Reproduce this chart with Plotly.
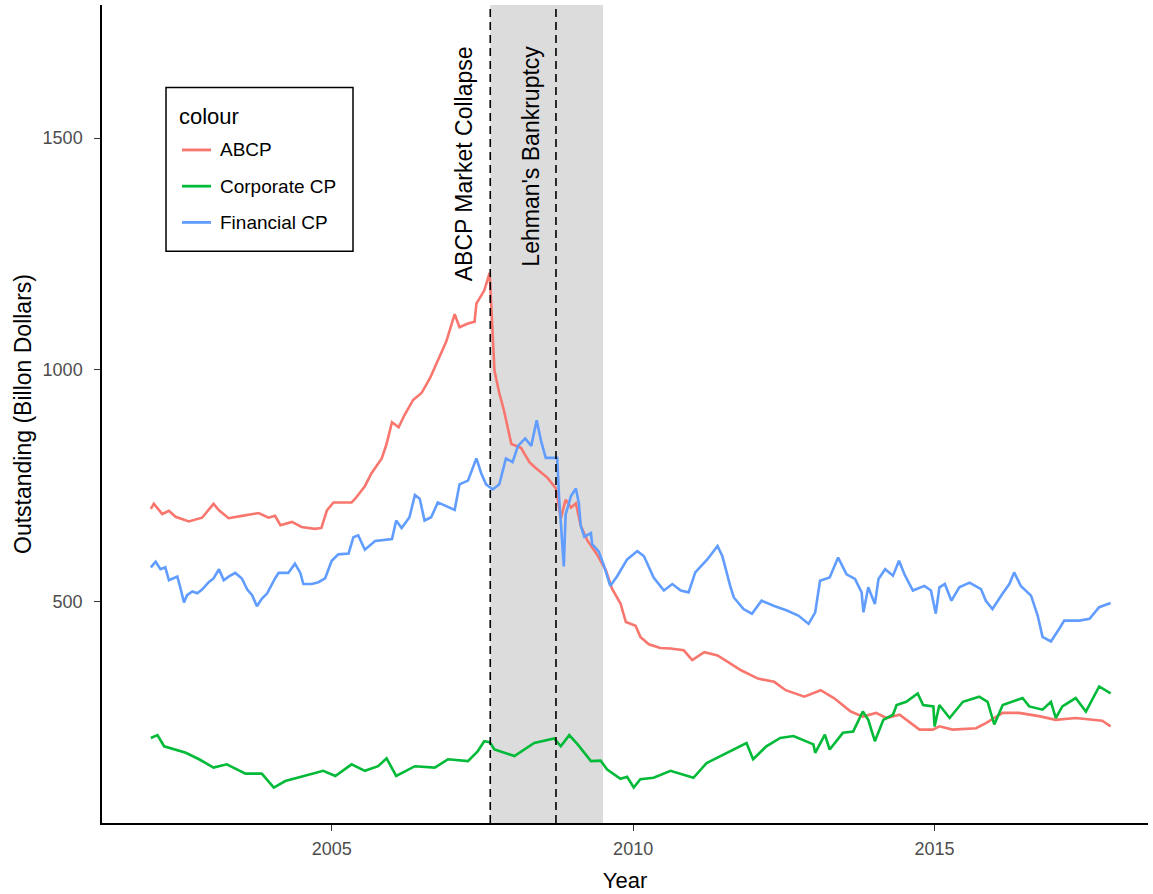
import plotly.graph_objects as go

# Commercial paper outstanding, billion dollars (decimal year, value)
abcp_year = [2002.00, 2002.05, 2002.19, 2002.30, 2002.41, 2002.63, 2002.85, 2003.04, 2003.13, 2003.29,
             2003.51, 2003.79, 2003.95, 2004.06, 2004.15, 2004.34, 2004.50, 2004.72, 2004.83, 2004.92,
             2005.03, 2005.17, 2005.33, 2005.39, 2005.55, 2005.66, 2005.83, 2005.91, 2006.00, 2006.11,
             2006.21, 2006.35, 2006.49, 2006.63, 2006.76, 2006.90, 2007.04, 2007.12, 2007.26, 2007.37,
             2007.40, 2007.53, 2007.62, 2007.66, 2007.70, 2007.78, 2007.86, 2007.98, 2008.14, 2008.28,
             2008.36, 2008.58, 2008.72, 2008.80, 2008.88, 2008.97, 2009.05, 2009.13, 2009.24, 2009.41,
             2009.55, 2009.65, 2009.79, 2009.88, 2010.04, 2010.12, 2010.26, 2010.45, 2010.62, 2010.84,
             2010.98, 2011.18, 2011.40, 2011.57, 2011.79, 2012.07, 2012.34, 2012.53, 2012.84, 2013.11,
             2013.33, 2013.61, 2013.81, 2014.03, 2014.20, 2014.42, 2014.75, 2014.97, 2015.08, 2015.30,
             2015.69, 2015.85, 2016.13, 2016.40, 2016.73, 2017.01, 2017.34, 2017.78, 2017.92]
abcp_value = [700, 711, 689, 696, 683, 673, 681, 711, 697, 680,
              685, 691, 681, 685, 665, 672, 661, 657, 659, 697,
              714, 714, 714, 722, 749, 777, 809, 840, 887, 876,
              903, 935, 950, 982, 1021, 1061, 1120, 1092, 1100, 1104,
              1143, 1171, 1209, 1092, 998, 950, 911, 840, 832, 801,
              791, 767, 744, 679, 720, 703, 712, 664, 632, 600,
              567, 528, 496, 456, 448, 424, 408, 400, 399, 395,
              374, 391, 384, 370, 352, 334, 327, 309, 295, 309,
              292, 263, 252, 260, 249, 256, 224, 224, 231, 224,
              227, 238, 260, 260, 253, 245, 249, 243, 231]

corp_year = [2002.00, 2002.11, 2002.22, 2002.41, 2002.58, 2002.80, 2003.04, 2003.26, 2003.57, 2003.84,
             2004.04, 2004.23, 2004.56, 2004.86, 2005.06, 2005.33, 2005.55, 2005.77, 2005.91, 2006.07,
             2006.38, 2006.71, 2006.93, 2007.26, 2007.42, 2007.53, 2007.62, 2007.70, 2008.03, 2008.36,
             2008.69, 2008.80, 2008.94, 2009.08, 2009.30, 2009.46, 2009.57, 2009.79, 2009.90, 2010.01,
             2010.12, 2010.34, 2010.62, 2011.00, 2011.22, 2011.55, 2011.88, 2011.99, 2012.21, 2012.44,
             2012.66, 2012.99, 2013.02, 2013.18, 2013.26, 2013.48, 2013.65, 2013.81, 2013.90, 2014.01,
             2014.15, 2014.31, 2014.37, 2014.53, 2014.72, 2014.81, 2014.98, 2015.00, 2015.08, 2015.25,
             2015.47, 2015.74, 2015.88, 2015.99, 2016.13, 2016.46, 2016.57, 2016.79, 2016.93, 2017.01,
             2017.12, 2017.34, 2017.51, 2017.73, 2017.92]
corp_value = [206, 212, 188, 181, 174, 160, 142, 149, 129, 129,
              99, 113, 124, 135, 124, 149, 135, 145, 162, 124,
              145, 142, 160, 156, 177, 199, 197, 181, 167, 195,
              205, 188, 212, 192, 156, 157, 138, 118, 122, 99,
              117, 120, 135, 120, 152, 174, 195, 160, 188, 206,
              210, 192, 174, 213, 181, 217, 220, 263, 245, 199,
              245, 256, 277, 284, 302, 277, 274, 231, 277, 249,
              284, 295, 284, 235, 277, 292, 274, 267, 284, 249,
              274, 292, 263, 317, 302]

fin_year = [2002.00, 2002.08, 2002.16, 2002.24, 2002.30, 2002.38, 2002.44, 2002.49, 2002.55, 2002.60,
            2002.69, 2002.77, 2002.85, 2002.96, 2003.04, 2003.13, 2003.21, 2003.29, 2003.40, 2003.51,
            2003.60, 2003.68, 2003.76, 2003.84, 2003.93, 2004.06, 2004.12, 2004.28, 2004.39, 2004.48,
            2004.53, 2004.67, 2004.78, 2004.89, 2005.00, 2005.11, 2005.28, 2005.36, 2005.44, 2005.55,
            2005.72, 2006.00, 2006.07, 2006.16, 2006.29, 2006.38, 2006.46, 2006.54, 2006.65, 2006.76,
            2007.04, 2007.12, 2007.26, 2007.40, 2007.48, 2007.56, 2007.67, 2007.78, 2007.89, 2008.00,
            2008.09, 2008.21, 2008.31, 2008.40, 2008.47, 2008.55, 2008.74, 2008.77, 2008.80, 2008.85,
            2008.88, 2008.97, 2009.05, 2009.10, 2009.13, 2009.19, 2009.30, 2009.32, 2009.43, 2009.52,
            2009.62, 2009.74, 2009.90, 2010.07, 2010.18, 2010.34, 2010.51, 2010.65, 2010.79, 2010.92,
            2011.03, 2011.23, 2011.40, 2011.48, 2011.61, 2011.67, 2011.83, 2011.97, 2012.13, 2012.33,
            2012.55, 2012.74, 2012.91, 2013.02, 2013.10, 2013.26, 2013.40, 2013.54, 2013.68, 2013.79,
            2013.82, 2013.90, 2014.01, 2014.07, 2014.18, 2014.31, 2014.41, 2014.50, 2014.64, 2014.83,
            2014.94, 2015.02, 2015.08, 2015.17, 2015.28, 2015.41, 2015.58, 2015.77, 2015.85, 2015.96,
            2016.12, 2016.24, 2016.32, 2016.43, 2016.60, 2016.71, 2016.79, 2016.93, 2017.07, 2017.15,
            2017.40, 2017.57, 2017.73, 2017.92]
fin_value = [574, 586, 570, 574, 546, 550, 554, 530, 498, 514,
             522, 518, 526, 542, 550, 570, 546, 554, 562, 550,
             526, 514, 490, 506, 518, 550, 562, 562, 582, 562,
             538, 538, 542, 550, 588, 602, 604, 639, 643, 612,
             631, 635, 675, 659, 682, 730, 722, 675, 682, 714,
             698, 753, 761, 809, 777, 753, 742, 753, 809, 801,
             836, 852, 836, 891, 848, 810, 810, 728, 664, 576,
             688, 728, 744, 712, 664, 640, 648, 624, 608, 576,
             534, 556, 591, 609, 598, 552, 524, 538, 524, 520,
             563, 591, 620, 598, 534, 509, 484, 474, 502, 491,
             481, 470, 452, 477, 545, 552, 595, 559, 549, 520,
             477, 531, 495, 549, 570, 556, 588, 559, 524, 534,
             524, 474, 531, 538, 502, 531, 541, 527, 502, 484,
             516, 538, 563, 534, 513, 470, 424, 414, 442, 459,
             459, 463, 488, 497]

series_names = ["ABCP", "Corporate CP", "Financial CP"]
series_colors = ["#F8766D", "#00BA38", "#619CFF"]

# Event markers and the shaded crisis window
abcp_collapse = 2007.63
lehman_bankruptcy = 2008.72
crisis_end = 2009.50

FONT = "Liberation Sans, Arial, sans-serif"

fig = go.Figure()
for name, color, xs, ys in zip(series_names, series_colors,
                               [abcp_year, corp_year, fin_year],
                               [abcp_value, corp_value, fin_value]):
    fig.add_trace(go.Scatter(x=xs, y=ys, mode="lines", name=name, showlegend=False,
                             line=dict(color=color, width=2.6)))

fig.add_shape(type="rect", xref="x", yref="paper", x0=abcp_collapse, x1=crisis_end,
              y0=0, y1=1, fillcolor="#DCDCDC", line_width=0, layer="below")
for xv in (abcp_collapse, lehman_bankruptcy):
    fig.add_shape(type="line", xref="x", yref="paper", x0=xv, x1=xv, y0=0, y1=1,
                  line=dict(color="black", width=1.6, dash="8px,5px"))

fig.add_annotation(x=abcp_collapse, y=1444, xshift=-26, text="ABCP Market Collapse",
                   textangle=-90, showarrow=False, xanchor="center", yanchor="middle",
                   font=dict(family=FONT, size=23, color="black"))
fig.add_annotation(x=lehman_bankruptcy, y=1462, xshift=-25, text="Lehman's Bankruptcy",
                   textangle=-90, showarrow=False, xanchor="center", yanchor="middle",
                   font=dict(family=FONT, size=23, color="black"))

# Legend box drawn in paper coordinates (plot area: 1046 x 824 px)
PW, PH = 1046.0, 824.0
def px_x(dx):
    return dx / PW
def px_y(dy):
    return 1 - dy / PH

box_left, box_top, box_w, box_h = 64, 83, 187, 165
fig.add_shape(type="rect", xref="paper", yref="paper",
              x0=px_x(box_left), x1=px_x(box_left + box_w),
              y0=px_y(box_top + box_h), y1=px_y(box_top),
              line=dict(color="black", width=1.5), fillcolor="white", layer="above")
fig.add_annotation(xref="paper", yref="paper", x=px_x(box_left + 11), y=px_y(box_top + 29),
                   text="colour", showarrow=False, xanchor="left", yanchor="middle",
                   font=dict(family=FONT, size=22, color="black"))
for i, (name, color) in enumerate(zip(series_names, series_colors)):
    row_y = box_top + 63 + i * 36.5
    fig.add_shape(type="line", xref="paper", yref="paper",
                  x0=px_x(box_left + 16), x1=px_x(box_left + 45),
                  y0=px_y(row_y), y1=px_y(row_y),
                  line=dict(color=color, width=2.8), layer="above")
    fig.add_annotation(xref="paper", yref="paper", x=px_x(box_left + 52), y=px_y(row_y),
                       text=name, showarrow=False, xanchor="left", yanchor="middle",
                       font=dict(family=FONT, size=19, color="black"))

fig.update_layout(
    width=1153, height=894,
    margin=dict(l=102, r=5, t=5, b=65),
    paper_bgcolor="white", plot_bgcolor="white",
    font=dict(family=FONT, color="black"),
    showlegend=False,
    xaxis=dict(
        range=[2001.19, 2018.54], tickvals=[2005, 2010, 2015],
        ticktext=["2005", "2010", "2015"],
        showgrid=False, zeroline=False, showline=True, linecolor="black", linewidth=1.5,
        ticks="outside", ticklen=6, tickwidth=1.3, tickcolor="#333333",
        ticklabelstandoff=3,
        tickfont=dict(size=18, color="#4D4D4D", family=FONT),
        title=dict(text="Year", font=dict(size=22, color="black", family=FONT), standoff=14),
    ),
    yaxis=dict(
        range=[22.5, 1787], tickvals=[500, 1000, 1500],
        showgrid=False, zeroline=False, showline=True, linecolor="black", linewidth=1.5,
        ticks="outside", ticklen=6, tickwidth=1.3, tickcolor="#333333",
        ticklabelstandoff=8,
        tickfont=dict(size=18, color="#4D4D4D", family=FONT),
        title=dict(text="Outstanding (Billon Dollars)", font=dict(size=23, color="black", family=FONT),
                   standoff=5),
    ),
)

fig.write_html("out.html")
